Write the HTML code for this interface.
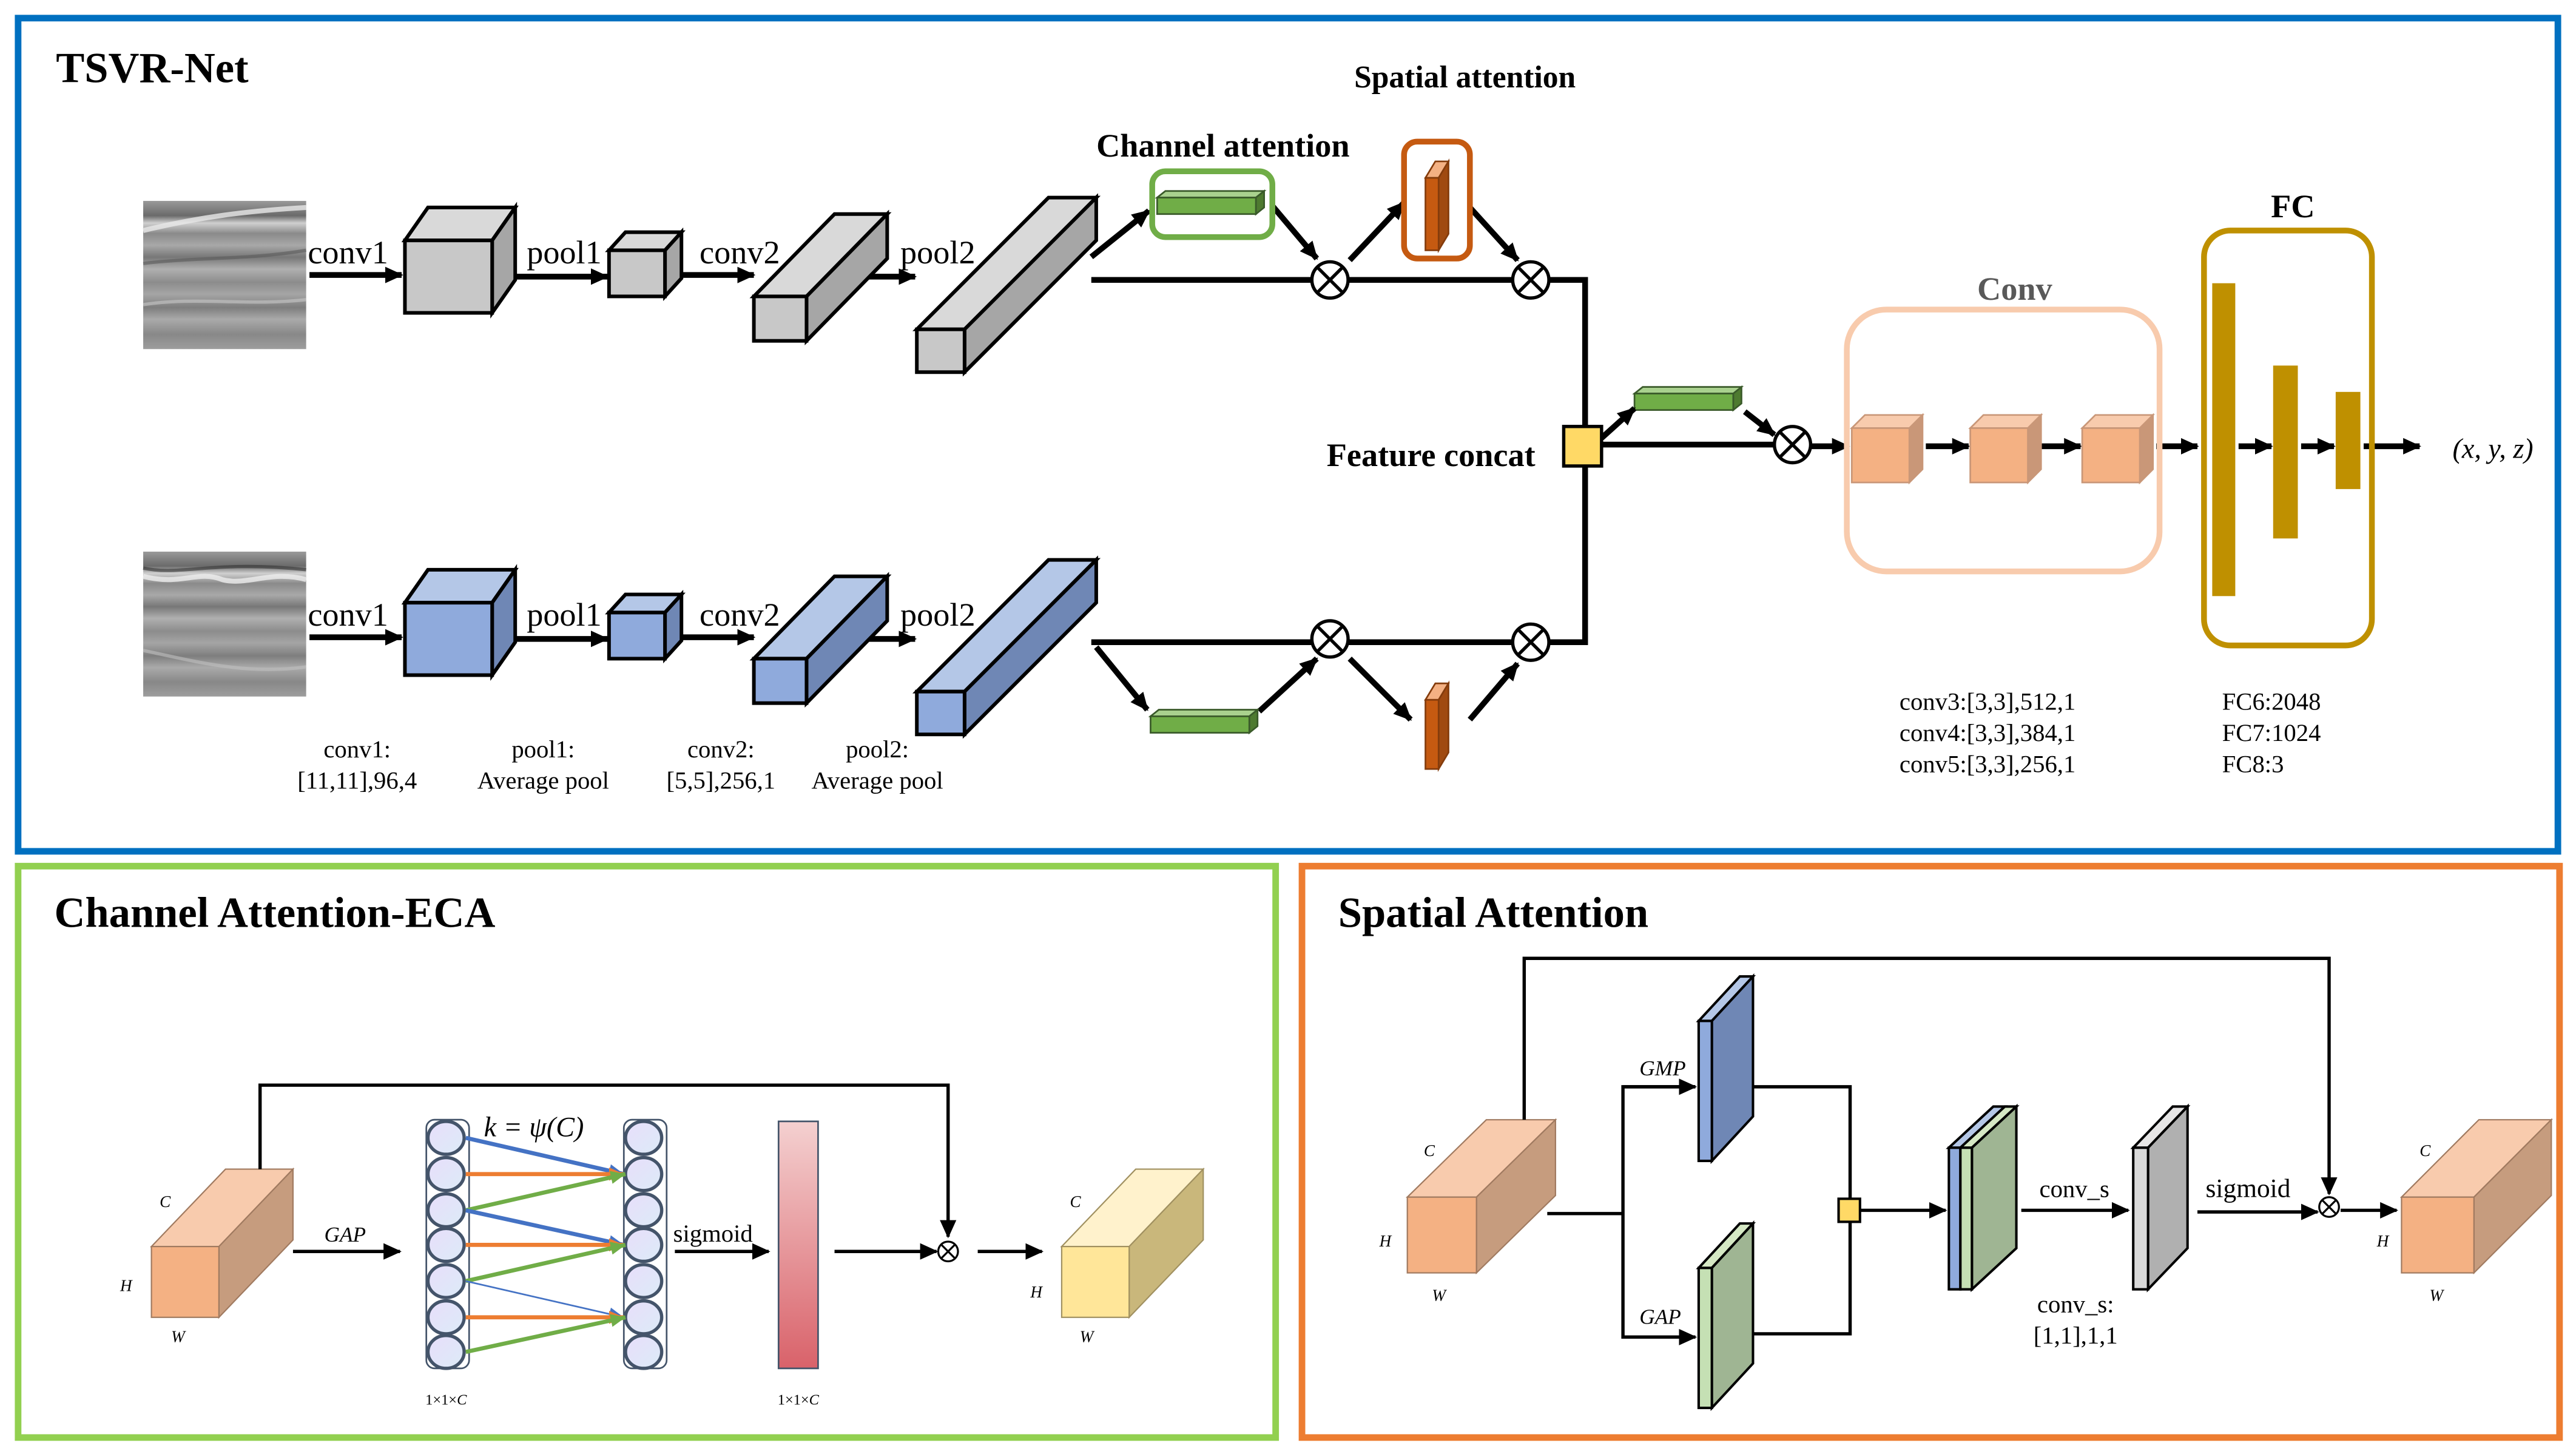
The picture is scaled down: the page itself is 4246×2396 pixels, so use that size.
<!DOCTYPE html>
<html><head><meta charset="utf-8"><style>
html,body{margin:0;padding:0;background:#fff;}
svg{display:block;}
text{font-family:"Liberation Serif",serif;}
</style></head><body>
<svg width="4246" height="2396" viewBox="0 0 1565 883" preserveAspectRatio="none" xmlns="http://www.w3.org/2000/svg">
<defs>
<marker id="a" markerUnits="userSpaceOnUse" markerWidth="12" markerHeight="12" refX="10" refY="6" orient="auto"><path d="M0,1 L11,6 L0,11 Z" fill="#000"/></marker>
<marker id="ab" markerUnits="userSpaceOnUse" markerWidth="10" markerHeight="10" refX="9" refY="5" orient="auto"><path d="M0,1 L9,5 L0,9 Z" fill="#4472c4"/></marker>
<marker id="ao" markerUnits="userSpaceOnUse" markerWidth="10" markerHeight="10" refX="9" refY="5" orient="auto"><path d="M0,1 L9,5 L0,9 Z" fill="#ed7d31"/></marker>
<marker id="ag" markerUnits="userSpaceOnUse" markerWidth="10" markerHeight="10" refX="9" refY="5" orient="auto"><path d="M0,1 L9,5 L0,9 Z" fill="#70ad47"/></marker>
<linearGradient id="tex" x1="0" y1="0" x2="0" y2="1">
<stop offset="0" stop-color="#9a9a9a"/><stop offset="0.1" stop-color="#6a6a6a"/><stop offset="0.15" stop-color="#d0d0d0"/><stop offset="0.22" stop-color="#8a8a8a"/><stop offset="0.3" stop-color="#a8a8a8"/><stop offset="0.38" stop-color="#777"/><stop offset="0.46" stop-color="#b0b0b0"/><stop offset="0.55" stop-color="#8c8c8c"/><stop offset="0.63" stop-color="#a5a5a5"/><stop offset="0.72" stop-color="#7e7e7e"/><stop offset="0.8" stop-color="#aaa"/><stop offset="0.9" stop-color="#888"/><stop offset="1" stop-color="#9d9d9d"/>
</linearGradient>
<linearGradient id="red" x1="0" y1="0" x2="0" y2="1"><stop offset="0" stop-color="#f4d0d0"/><stop offset="1" stop-color="#d9626a"/></linearGradient>
<linearGradient id="cir" x1="0" y1="0" x2="1" y2="1"><stop offset="0" stop-color="#e8defa"/><stop offset="1" stop-color="#dcebf8"/></linearGradient>
</defs>

<!-- panel borders -->
<rect x="11" y="11" width="1543" height="506" fill="none" stroke="#0070c0" stroke-width="4"/>
<rect x="11" y="526" width="764" height="347" fill="none" stroke="#92d050" stroke-width="4"/>
<rect x="791" y="526" width="764" height="347" fill="none" stroke="#ed7d31" stroke-width="4"/>

<text x="34" y="50" font-size="26" font-weight="bold">TSVR-Net</text>
<text x="890" y="53" font-size="19" font-weight="bold" text-anchor="middle">Spatial attention</text>
<text x="743" y="95" font-size="20" font-weight="bold" text-anchor="middle">Channel attention</text>

<!-- images -->
<rect x="87" y="122" width="99" height="90" fill="url(#tex)"/>
<path d="M87,140 C120,132 150,128 186,126" stroke="#e8e8e8" stroke-width="3" fill="none" opacity="0.8"/>
<path d="M87,160 C120,156 150,158 186,152" stroke="#5a5a5a" stroke-width="2" fill="none" opacity="0.6"/>
<path d="M87,185 C120,180 150,186 186,182" stroke="#c8c8c8" stroke-width="2" fill="none" opacity="0.6"/>
<rect x="87" y="335" width="99" height="88" fill="url(#tex)"/>
<path d="M87,350 C110,356 120,346 135,352 C150,356 165,346 186,352" stroke="#eee" stroke-width="3" fill="none" opacity="0.8"/>
<path d="M87,345 C110,350 130,340 186,346" stroke="#333" stroke-width="2" fill="none" opacity="0.6"/>
<path d="M87,395 C120,402 150,410 186,405" stroke="#c0c0c0" stroke-width="2" fill="none" opacity="0.6"/>

<!-- top row -->
<g stroke="#000" stroke-width="2.2">
<line x1="188" y1="167" x2="244" y2="167" stroke-width="3.5" marker-end="url(#a)"/>
<line x1="300" y1="168" x2="369" y2="168" stroke-width="3.5" marker-end="url(#a)"/>
<line x1="405" y1="167" x2="458" y2="167" stroke-width="3.5" marker-end="url(#a)"/>
<line x1="525" y1="168" x2="556" y2="168" stroke-width="3.5" marker-end="url(#a)"/>
<polygon points="246,146 260,126 313,126 299,146" fill="#d9d9d9"/>
<polygon points="299,146 313,126 313,170 299,190" fill="#a6a6a6"/>
<rect x="246" y="146" width="53" height="44" fill="#c8c8c8"/>
<polygon points="370,152 380,141 414,141 404,152" fill="#d9d9d9"/>
<polygon points="404,152 414,141 414,169 404,180" fill="#a6a6a6"/>
<rect x="370" y="152" width="34" height="28" fill="#c8c8c8"/>
<polygon points="458,180 507,130 539,130 490,180" fill="#d9d9d9"/>
<polygon points="490,180 539,130 539,157 490,207" fill="#a6a6a6"/>
<rect x="458" y="180" width="32" height="27" fill="#c8c8c8"/>
<polygon points="557,200 637,120 666,120 586,200" fill="#d9d9d9"/>
<polygon points="586,200 666,120 666,146 586,226" fill="#a6a6a6"/>
<rect x="557" y="200" width="29" height="26" fill="#c8c8c8"/>
</g>
<g font-size="20">
<text x="187" y="160">conv1</text><text x="320" y="160">pool1</text><text x="425" y="160">conv2</text><text x="547" y="160">pool2</text>
<text x="187" y="380">conv1</text><text x="320" y="380">pool1</text><text x="425" y="380">conv2</text><text x="547" y="380">pool2</text>
</g>

<!-- bottom row -->
<g stroke="#000" stroke-width="2.2">
<line x1="188" y1="387" x2="244" y2="387" stroke-width="3.5" marker-end="url(#a)"/>
<line x1="300" y1="388" x2="369" y2="388" stroke-width="3.5" marker-end="url(#a)"/>
<line x1="405" y1="387" x2="458" y2="387" stroke-width="3.5" marker-end="url(#a)"/>
<line x1="525" y1="388" x2="556" y2="388" stroke-width="3.5" marker-end="url(#a)"/>
<polygon points="246,366 260,346 313,346 299,366" fill="#b4c7e7"/>
<polygon points="299,366 313,346 313,390 299,410" fill="#6f87b5"/>
<rect x="246" y="366" width="53" height="44" fill="#8faadc"/>
<polygon points="370,372 380,361 414,361 404,372" fill="#b4c7e7"/>
<polygon points="404,372 414,361 414,389 404,400" fill="#6f87b5"/>
<rect x="370" y="372" width="34" height="28" fill="#8faadc"/>
<polygon points="458,400 507,350 539,350 490,400" fill="#b4c7e7"/>
<polygon points="490,400 539,350 539,377 490,427" fill="#6f87b5"/>
<rect x="458" y="400" width="32" height="27" fill="#8faadc"/>
<polygon points="557,420 637,340 666,340 586,420" fill="#b4c7e7"/>
<polygon points="586,420 666,340 666,366 586,446" fill="#6f87b5"/>
<rect x="557" y="420" width="29" height="26" fill="#8faadc"/>
</g>

<g font-size="15" text-anchor="middle">
<text x="217" y="460">conv1:</text><text x="217" y="479">[11,11],96,4</text>
<text x="330" y="460">pool1:</text><text x="330" y="479">Average pool</text>
<text x="438" y="460">conv2:</text><text x="438" y="479">[5,5],256,1</text>
<text x="533" y="460">pool2:</text><text x="533" y="479">Average pool</text>
</g>
<g font-size="15">
<text x="1154" y="431">conv3:[3,3],512,1</text><text x="1154" y="450">conv4:[3,3],384,1</text><text x="1154" y="469">conv5:[3,3],256,1</text>
<text x="1350" y="431">FC6:2048</text><text x="1350" y="450">FC7:1024</text><text x="1350" y="469">FC8:3</text>
</g>

<!-- attention top -->
<g stroke="#000" stroke-width="3.5" fill="none">
<line x1="663" y1="156" x2="698" y2="128" marker-end="url(#a)"/>
<line x1="663" y1="170" x2="797" y2="170"/>
<line x1="773" y1="125" x2="800" y2="157" marker-end="url(#a)"/>
<line x1="820" y1="158" x2="853" y2="123" marker-end="url(#a)"/>
<line x1="893" y1="126" x2="922" y2="158" marker-end="url(#a)"/>
<line x1="819" y1="170" x2="919" y2="170"/>
<polyline points="941,170 963,170 963,390 941,390"/>
<line x1="663" y1="390" x2="797" y2="390"/>
<line x1="666" y1="393" x2="697" y2="431" marker-end="url(#a)"/>
<line x1="765" y1="432" x2="800" y2="400" marker-end="url(#a)"/>
<line x1="820" y1="400" x2="857" y2="437" marker-end="url(#a)"/>
<line x1="893" y1="437" x2="922" y2="403" marker-end="url(#a)"/>
<line x1="819" y1="390" x2="919" y2="390"/>
</g>
<rect x="700" y="104" width="73" height="40" rx="8" fill="none" stroke="#70ad47" stroke-width="3.5"/>
<rect x="853" y="86" width="40" height="71" rx="8" fill="none" stroke="#c55a11" stroke-width="3.5"/>
<g stroke="#3a5a2a" stroke-width="1">
<polygon points="703,120 708,116 768,116 763,120" fill="#a9d18e"/><polygon points="763,120 768,116 768,126 763,130" fill="#4e7a30"/><rect x="703" y="120" width="60" height="10" fill="#70ad47"/>
<polygon points="699,435 704,431 764,431 759,435" fill="#a9d18e"/><polygon points="759,435 764,431 764,441 759,445" fill="#4e7a30"/><rect x="699" y="435" width="60" height="10" fill="#70ad47"/>
<polygon points="993,239 998,235 1058,235 1053,239" fill="#a9d18e"/><polygon points="1053,239 1058,235 1058,245 1053,249" fill="#4e7a30"/><rect x="993" y="239" width="60" height="10" fill="#70ad47"/>
</g>
<g stroke="#843c0c" stroke-width="1">
<polygon points="866,108 872,98 880,98 874,108" fill="#f4b183"/><polygon points="874,108 880,98 880,142 874,152" fill="#a04a10"/><rect x="866" y="108" width="8" height="44" fill="#c55a11"/>
<polygon points="866,425 872,415 880,415 874,425" fill="#f4b183"/><polygon points="874,425 880,415 880,457 874,467" fill="#a04a10"/><rect x="866" y="425" width="8" height="42" fill="#c55a11"/>
</g>
<g stroke="#000" stroke-width="2" fill="#fff">
<circle cx="808" cy="170" r="11"/><circle cx="930" cy="170" r="11"/><circle cx="808" cy="388" r="11"/><circle cx="930" cy="390" r="11"/><circle cx="1089" cy="270" r="11"/>
<path d="M800,162 L816,178 M816,162 L800,178 M922,162 L938,178 M938,162 L922,178 M800,380 L816,396 M816,380 L800,396 M922,382 L938,398 M938,382 L922,398 M1081,262 L1097,278 M1097,262 L1081,278" fill="none"/>
</g>

<!-- feature concat -->
<g stroke="#000" stroke-width="3.5" fill="none">
<line x1="973" y1="266" x2="993" y2="248" marker-end="url(#a)"/>
<line x1="1060" y1="250" x2="1078" y2="264" marker-end="url(#a)"/>
<line x1="973" y1="270" x2="1078" y2="270"/>
<line x1="1100" y1="271" x2="1123" y2="271" marker-end="url(#a)"/>
<line x1="1170" y1="271" x2="1196" y2="271" marker-end="url(#a)"/>
<line x1="1240" y1="271" x2="1264" y2="271" marker-end="url(#a)"/>
<line x1="1310" y1="271" x2="1335" y2="271" marker-end="url(#a)"/>
<line x1="1360" y1="271" x2="1380" y2="271" marker-end="url(#a)"/>
<line x1="1398" y1="271" x2="1418" y2="271" marker-end="url(#a)"/>
<line x1="1436" y1="271" x2="1470" y2="271" marker-end="url(#a)"/>
</g>
<rect x="950" y="259" width="23" height="24" fill="#ffd966" stroke="#000" stroke-width="2"/>
<text x="806" y="283" font-size="20" font-weight="bold">Feature concat</text>

<rect x="1122" y="188" width="190" height="159" rx="24" fill="none" stroke="#f8cbad" stroke-width="3.5"/>
<text x="1224" y="182" font-size="20" font-weight="bold" fill="#595959" text-anchor="middle">Conv</text>
<g stroke="#c99778" stroke-width="1">
<polygon points="1125,260 1133,252 1168,252 1160,260" fill="#f8cbad"/><polygon points="1160,260 1168,252 1168,285 1160,293" fill="#c99778"/><rect x="1125" y="260" width="35" height="33" fill="#f4b183"/>
<polygon points="1197,260 1205,252 1240,252 1232,260" fill="#f8cbad"/><polygon points="1232,260 1240,252 1240,285 1232,293" fill="#c99778"/><rect x="1197" y="260" width="35" height="33" fill="#f4b183"/>
<polygon points="1265,260 1273,252 1308,252 1300,260" fill="#f8cbad"/><polygon points="1300,260 1308,252 1308,285 1300,293" fill="#c99778"/><rect x="1265" y="260" width="35" height="33" fill="#f4b183"/>
</g>
<rect x="1339" y="140" width="102" height="252" rx="16" fill="none" stroke="#bf9000" stroke-width="3.5"/>
<text x="1393" y="132" font-size="20" font-weight="bold" text-anchor="middle">FC</text>
<rect x="1344" y="172" width="14" height="190" fill="#bf9000"/>
<rect x="1381" y="222" width="15" height="105" fill="#bf9000"/>
<rect x="1419" y="238" width="15" height="59" fill="#bf9000"/>
<text x="1490" y="278" font-size="17" font-style="italic">(x, y, z)</text>

<!-- ECA panel -->
<text x="33" y="563" font-size="26" font-weight="bold">Channel Attention-ECA</text>
<g stroke="#a07a60" stroke-width="0.8">
<polygon points="92,757 137,710 178,710 133,757" fill="#f8cbad"/><polygon points="133,757 178,710 178,753 133,800" fill="#c69c7e"/><rect x="92" y="757" width="41" height="43" fill="#f4b183"/>
</g>
<g font-size="10" font-style="italic"><text x="97" y="733">C</text><text x="73" y="784">H</text><text x="104" y="815">W</text>
<text x="650" y="733">C</text><text x="626" y="788">H</text><text x="656" y="815">W</text></g>
<g stroke="#000" stroke-width="2" fill="none">
<polyline points="158,710 158,659 576,659 576,751" marker-end="url(#a)"/>
<line x1="178" y1="760" x2="243" y2="760" marker-end="url(#a)"/>
<line x1="410" y1="760" x2="467" y2="760" marker-end="url(#a)"/>
<line x1="507" y1="760" x2="569" y2="760" marker-end="url(#a)"/>
<line x1="594" y1="760" x2="633" y2="760" marker-end="url(#a)"/>
</g>
<text x="197" y="754" font-size="13" font-style="italic">GAP</text>
<text x="409" y="754" font-size="15">sigmoid</text>
<text x="294" y="690" font-size="17" font-style="italic">k = ψ(C)</text>
<rect x="259" y="680" width="26" height="151" rx="5" fill="none" stroke="#44546a" stroke-width="1"/>
<rect x="379" y="680" width="26" height="151" rx="5" fill="none" stroke="#44546a" stroke-width="1"/>
<g stroke="#44546a" stroke-width="2" fill="url(#cir)">
<ellipse cx="271" cy="691" rx="11" ry="10"/><ellipse cx="271" cy="713" rx="11" ry="10"/><ellipse cx="271" cy="735" rx="11" ry="10"/><ellipse cx="271" cy="756" rx="11" ry="10"/><ellipse cx="271" cy="778" rx="11" ry="10"/><ellipse cx="271" cy="800" rx="11" ry="10"/><ellipse cx="271" cy="821" rx="11" ry="10"/>
<ellipse cx="391" cy="691" rx="11" ry="10"/><ellipse cx="391" cy="713" rx="11" ry="10"/><ellipse cx="391" cy="735" rx="11" ry="10"/><ellipse cx="391" cy="756" rx="11" ry="10"/><ellipse cx="391" cy="778" rx="11" ry="10"/><ellipse cx="391" cy="800" rx="11" ry="10"/><ellipse cx="391" cy="821" rx="11" ry="10"/>
</g>
<g stroke-width="2.5" fill="none">
<line x1="283" y1="691" x2="379" y2="713" stroke="#4472c4" marker-end="url(#ab)"/>
<line x1="283" y1="713" x2="379" y2="713" stroke="#ed7d31" marker-end="url(#ao)"/>
<line x1="283" y1="735" x2="380" y2="713" stroke="#70ad47" marker-end="url(#ag)"/>
<line x1="283" y1="735" x2="379" y2="756" stroke="#4472c4" marker-end="url(#ab)"/>
<line x1="283" y1="756" x2="379" y2="756" stroke="#ed7d31" marker-end="url(#ao)"/>
<line x1="283" y1="778" x2="380" y2="756" stroke="#70ad47" marker-end="url(#ag)"/>
<line x1="283" y1="778" x2="379" y2="800" stroke="#4472c4" stroke-width="1" marker-end="url(#ab)"/>
<line x1="283" y1="800" x2="379" y2="800" stroke="#ed7d31" marker-end="url(#ao)"/>
<line x1="283" y1="821" x2="380" y2="800" stroke="#70ad47" marker-end="url(#ag)"/>
</g>
<rect x="473" y="681" width="24" height="150" fill="url(#red)" stroke="#44546a" stroke-width="1"/>
<g font-size="9" text-anchor="middle"><text x="271" y="853">1×1×<tspan font-style="italic">C</tspan></text><text x="485" y="853">1×1×<tspan font-style="italic">C</tspan></text></g>
<circle cx="576" cy="760" r="6" fill="#fff" stroke="#000" stroke-width="1.2"/>
<path d="M572,756 L580,764 M580,756 L572,764" stroke="#000" stroke-width="1.2"/>
<g stroke="#a09060" stroke-width="0.8">
<polygon points="645,757 690,710 731,710 686,757" fill="#fff2cc"/><polygon points="686,757 731,710 731,753 686,800" fill="#c9b77b"/><rect x="645" y="757" width="41" height="43" fill="#ffe699"/>
</g>

<!-- Spatial panel -->
<text x="813" y="563" font-size="26" font-weight="bold">Spatial Attention</text>
<g stroke="#a07a60" stroke-width="0.8">
<polygon points="855,727 903,680 945,680 897,727" fill="#f8cbad"/><polygon points="897,727 945,680 945,726 897,773" fill="#c69c7e"/><rect x="855" y="727" width="42" height="46" fill="#f4b183"/>
<polygon points="1459,727 1506,680 1550,680 1503,727" fill="#f8cbad"/><polygon points="1503,727 1550,680 1550,726 1503,773" fill="#c69c7e"/><rect x="1459" y="727" width="44" height="46" fill="#f4b183"/>
</g>
<g font-size="10" font-style="italic"><text x="865" y="702">C</text><text x="838" y="757">H</text><text x="870" y="790">W</text>
<text x="1470" y="702">C</text><text x="1444" y="757">H</text><text x="1476" y="790">W</text></g>
<g stroke="#000" stroke-width="2" fill="none">
<polyline points="926,680 926,582 1415,582 1415,725" marker-end="url(#a)"/>
<polyline points="940,737 986,737"/>
<polyline points="1030,660 986,660 986,812 1030,812"/>
<line x1="986" y1="660" x2="1030" y2="660" marker-end="url(#a)"/>
<line x1="986" y1="812" x2="1030" y2="812" marker-end="url(#a)"/>
<polyline points="1065,660 1124,660 1124,810 1065,810"/>
<line x1="1130" y1="735" x2="1182" y2="735" marker-end="url(#a)"/>
<line x1="1228" y1="735" x2="1293" y2="735" marker-end="url(#a)"/>
<line x1="1335" y1="736" x2="1408" y2="736" marker-end="url(#a)"/>
<line x1="1422" y1="735" x2="1456" y2="735" marker-end="url(#a)"/>
</g>
<rect x="1117" y="728" width="13" height="14" fill="#ffd966" stroke="#000" stroke-width="1.5"/>
<g font-size="13" font-style="italic"><text x="996" y="653">GMP</text><text x="996" y="804">GAP</text></g>
<g stroke="#000" stroke-width="1.5">
<polygon points="1032,620 1057,593 1065,593 1040,620" fill="#b4c7e7"/><polygon points="1040,620 1065,593 1065,678 1040,705" fill="#6f87b5"/><rect x="1032" y="620" width="8" height="85" fill="#8faadc"/>
<polygon points="1032,770 1057,743 1065,743 1040,770" fill="#d5e8c4"/><polygon points="1040,770 1065,743 1065,828 1040,855" fill="#9fb593"/><rect x="1032" y="770" width="8" height="85" fill="#c5e0b4"/>
<polygon points="1184,697 1211,672 1218,672 1191,697" fill="#b4c7e7"/>
<polygon points="1191,697 1218,672 1225,672 1198,697" fill="#d5e8c4"/>
<polygon points="1198,697 1225,672 1225,758 1198,783" fill="#9fb593"/>
<rect x="1184" y="697" width="7" height="86" fill="#8faadc"/>
<rect x="1191" y="697" width="7" height="86" fill="#c5e0b4"/>
<polygon points="1296,697 1320,672 1329,672 1305,697" fill="#e7e6e6"/><polygon points="1305,697 1329,672 1329,758 1305,783" fill="#b0b0b0"/><rect x="1296" y="697" width="9" height="86" fill="#d9d9d9"/>
</g>
<text x="1239" y="727" font-size="15">conv_s</text>
<text x="1340" y="727" font-size="16">sigmoid</text>
<g font-size="15" text-anchor="middle"><text x="1261" y="797">conv_s:</text><text x="1261" y="816">[1,1],1,1</text></g>
<circle cx="1415" cy="733" r="6" fill="#fff" stroke="#000" stroke-width="1.2"/>
<path d="M1411,729 L1419,737 M1419,729 L1411,737" stroke="#000" stroke-width="1.2"/>
</svg>
</body></html>
